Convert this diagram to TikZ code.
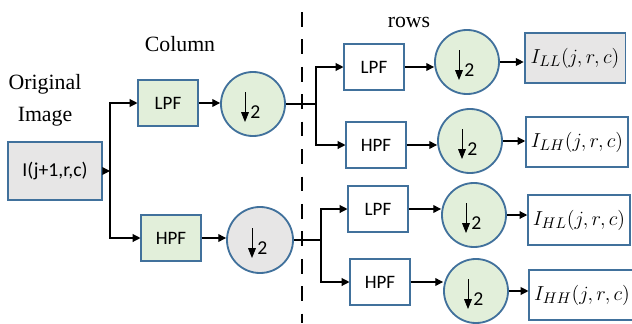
\documentclass[tikz,border=0pt]{standalone}
\usepackage{fontspec}
\setmainfont{Liberation Serif}
\newfontfamily\calibri{Carlito}
\usetikzlibrary{arrows.meta}

\definecolor{edgeblue}{HTML}{41719C}
\definecolor{palegreen}{HTML}{E2EFDA}
\definecolor{palegray}{HTML}{E7E6E6}

\begin{document}
\begin{tikzpicture}[x=0.025cm,y=-0.025cm,>={Triangle[length=5.5pt,width=5.5pt]},
 flt/.style={draw=edgeblue,line width=1.3pt,minimum width=1.48cm,minimum height=1.15cm,font=\calibri\fontsize{13.5}{15}\selectfont},
 ds/.style={circle,draw=edgeblue,line width=1.3pt,fill=palegreen,minimum size=1.6cm,inner sep=0pt},
 subband/.style={draw=edgeblue,line width=1.3pt,minimum width=2.52cm,minimum height=1.23cm,font=\fontsize{15}{17}\selectfont},
 hd/.style={font=\fontsize{15.5}{23}\selectfont,align=center},
 ln/.style={line width=0.8pt}]
\useasboundingbox (0,0) rectangle (632,323);
% headings
\node[hd] (orig) at (45,100) {Original\\Image};
\node[hd] (col) at (180,44) {Column};
\node[hd] (rows) at (409,22) {rows};
% input
\node[flt,fill=palegray,minimum width=2.35cm,minimum height=1.45cm,font=\calibri\fontsize{14}{16}\selectfont] (img) at (55,171) {I(j+1,r,c)};
% column stage
\node[flt,fill=palegreen] (cL) at (168,103) {LPF};
\node[flt,fill=palegreen] (cH) at (171,238) {HPF};
\node[ds] (d1) at (253,104) {};
\node[ds,fill=palegray,minimum size=1.65cm] (d2) at (260,240) {};
% row stage
\node[flt] (r1) at (374,67) {LPF};
\node[flt] (r2) at (376,145) {HPF};
\node[flt] (r3) at (378,209) {LPF};
\node[flt] (r4) at (380,282) {HPF};
\node[ds] (d3) at (467,62) {};
\node[ds] (d4) at (470,141) {};
\node[ds] (d5) at (474,215) {};
\node[ds] (d6) at (476,291) {};
% subbands
\node[subband,fill=palegray] (oLL) at (575,58) {$I_{LL}(j,r,c)$};
\node[subband] (oLH) at (577,142) {$I_{LH}(j,r,c)$};
\node[subband] (oHL) at (579,220) {$I_{HL}(j,r,c)$};
\node[subband] (oHH) at (582,295) {$I_{HH}(j,r,c)$};
% downsampling mark
\foreach \k in {1,...,6} {
  \draw[line width=0.6pt,-{Triangle[length=7pt,width=5.5pt]}] ([shift={(-8,-12)}]d\k.center) -- ([shift={(-8,18)}]d\k.center);
  \node[anchor=west,inner sep=0pt,font=\calibri\fontsize{14}{16}\selectfont] (n\k) at ([shift={(-3,8)}]d\k.center) {2};
}
% split lines
\draw[ln,dash pattern=on 10.5pt off 9pt] (302,12) -- (302,323);
\coordinate (j1) at (110,171);
\coordinate (j2) at (316,104);
\coordinate (j3) at (321,240);
\draw[ln,->] (img.east) -- (j1);
\draw[ln,->] (j1) |- (cL.west);
\draw[ln,->] (j1) |- (cH.west);
\draw[ln,->] (cL.east) -- (cL.east -| d1.west);
\draw[ln,->] (cH.east) -- (cH.east -| d2.west);
\draw[ln] (d1.east) -- (j2);
\draw[ln] (d2.east) -- (j3);
\draw[ln,->] (j2) |- (r1.west);
\draw[ln,->] (j2) |- (r2.west);
\draw[ln,->] (j3) |- (r3.west);
\draw[ln,->] (j3) |- (r4.west);
\foreach \a/\b in {r1/d3,r2/d4,r3/d5,r4/d6,d3/oLL,d4/oLH,d5/oHL,d6/oHH}
  \draw[ln,->] (\a.east) -- (\a.east -| \b.west);
\end{tikzpicture}
\end{document}
